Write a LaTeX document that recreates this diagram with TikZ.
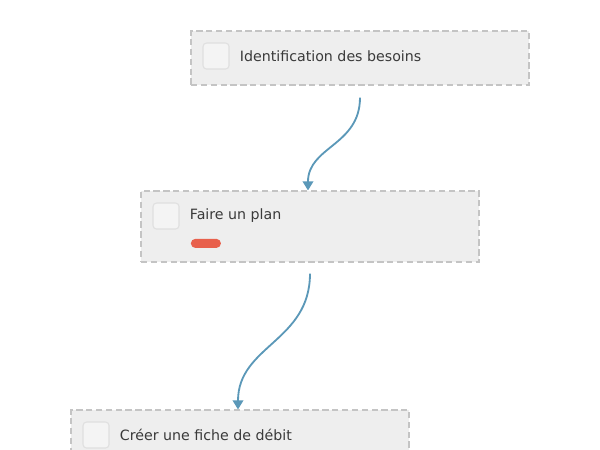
\documentclass[tikz,border=0pt]{standalone}
\usepackage{fontspec}
\setmainfont{DejaVu Sans}
\usepackage{xcolor}
\usetikzlibrary{arrows.meta, positioning}
\definecolor{taskFill}{HTML}{EEEEEE}
\definecolor{taskBorder}{HTML}{C4C4C4}
\definecolor{checkFill}{HTML}{F4F4F4}
\definecolor{checkBorder}{HTML}{E0E0E0}
\definecolor{flowBlue}{HTML}{5B98B8}
\definecolor{tagRed}{HTML}{E8604C}
\definecolor{taskText}{HTML}{3A3A3A}

\begin{document}
\begin{tikzpicture}[
        task/.style={rectangle, draw=taskBorder, fill=taskFill, line width=0.75pt, dash pattern=on 4.5pt off 2.5pt, minimum width=8.45cm, minimum height=1.35cm},
        check/.style={rectangle, rounded corners=2.5pt, draw=checkBorder, fill=checkFill, line width=0.8pt, minimum size=0.65cm, inner sep=0pt},
        label/.style={inner sep=0pt, text=taskText, font=\fontsize{10.1}{12}\selectfont},
        tag/.style={rectangle, rounded corners=0.11cm, fill=tagRed, minimum width=0.75cm, minimum height=0.225cm, inner sep=0pt},
        flow/.style={-{Triangle[width=7.5pt,length=6.5pt]}, line width=1.3pt, flowBlue}
    ]
        \useasboundingbox (0,0) rectangle (15,-11.25);
        \clip (0,0) rectangle (15,-11.25);

        % Tasks
        \node[task] (b1) at (9,-1.45) {};
        \node[task, minimum height=1.775cm] (b2) at (7.75,-5.6625) {};
        \node[task] (b3) at (6,-10.925) {};

        % Checkboxes and texts
        \node[check, below right=0.3cm and 0.3cm of b1.north west] (c1) {};
        \node[label, right=0.25cm of c1] (t1) {Identification des besoins};
        \node[check, below right=0.3cm and 0.3cm of b2.north west] (c2) {};
        \node[label, right=0.25cm of c2] (t2) {Faire un plan};
        \node[tag, below right=0.225cm and 0.275cm of c2.south east] (r2) {};
        \node[check, below right=0.3cm and 0.3cm of b3.north west] (c3) {};
        \node[label, right=0.25cm of c3] (t3) {Créer une fiche de débit};

        % Flow
        \draw[flow] ([yshift=-0.3cm]b1.south) .. controls +(0,-1.2) and +(0,1.1) .. ([xshift=-0.05cm]b2.north);
        \draw[flow] ([yshift=-0.275cm]b2.south) .. controls +(0,-1.7) and +(0,1.6) .. ([xshift=-0.05cm]b3.north);
    \end{tikzpicture}
\end{document}
